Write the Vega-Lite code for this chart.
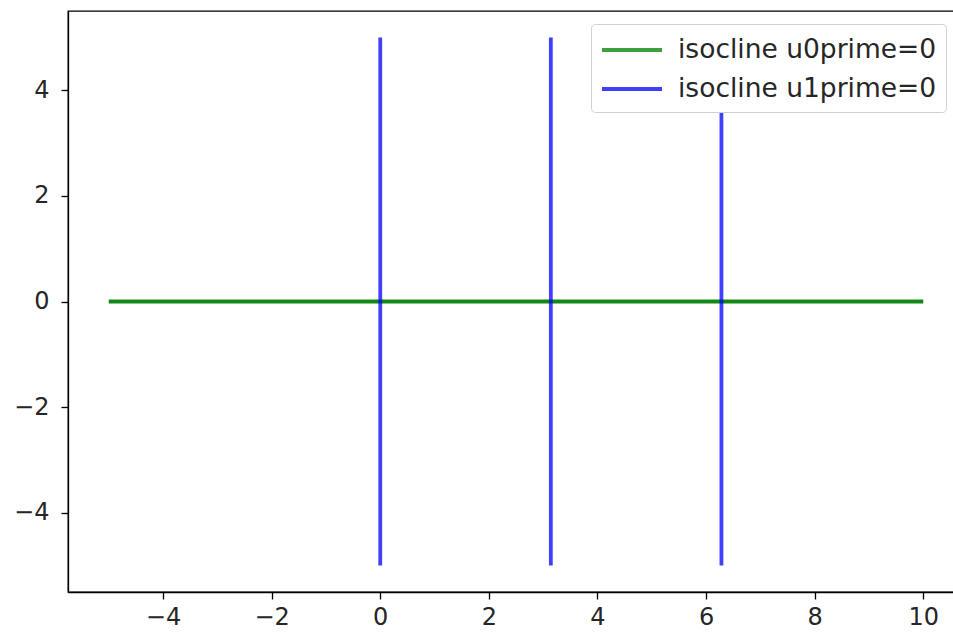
{
  "$schema": "https://vega.github.io/schema/vega-lite/v6.json",
  "width": 896,
  "height": 581,
  "autosize": {"type": "none"},
  "padding": {"left": 68, "top": 11, "right": 0, "bottom": 45},
  "background": "white",
  "config": {
    "font": "DejaVu Sans",
    "view": {"stroke": "black", "strokeWidth": 1.3},
    "axis": {
      "grid": false,
      "domainColor": "black",
      "domainWidth": 1.3,
      "tickColor": "black",
      "tickWidth": 1.3,
      "tickSize": 7,
      "labelFont": "DejaVu Sans",
      "labelFontSize": 24,
      "labelColor": "#262626",
      "title": null
    }
  },
  "datasets": {
    "green": [
      {"x": -5, "y": 0, "id": "g", "series": "isocline u0prime=0"},
      {"x": 10, "y": 0, "id": "g", "series": "isocline u0prime=0"}
    ],
    "blue": [
      {"x": 0, "y": -5, "id": "b0", "series": "isocline u1prime=0"},
      {"x": 0, "y": 5, "id": "b0", "series": "isocline u1prime=0"},
      {"x": 3.1416, "y": -5, "id": "b1", "series": "isocline u1prime=0"},
      {"x": 3.1416, "y": 5, "id": "b1", "series": "isocline u1prime=0"},
      {"x": 6.2832, "y": -5, "id": "b2", "series": "isocline u1prime=0"},
      {"x": 6.2832, "y": 5, "id": "b2", "series": "isocline u1prime=0"}
    ]
  },
  "layer": [
    {
      "data": {"name": "green"},
      "mark": {"type": "line", "strokeWidth": 3.8, "opacity": 0.93, "clip": true},
      "encoding": {
        "x": {"field": "x", "type": "quantitative", "scale": {"domain": [-5.75, 10.75], "nice": false, "zero": false}, "axis": {"values": [-4, -2, 0, 2, 4, 6, 8, 10], "labelPadding": 6}},
        "y": {"field": "y", "type": "quantitative", "scale": {"domain": [-5.5, 5.5], "nice": false, "zero": false}, "axis": {"values": [-4, -2, 0, 2, 4], "labelPadding": 12}},
        "detail": {"field": "id"},
        "color": {
          "field": "series", "type": "nominal",
          "scale": {"domain": ["isocline u0prime=0", "isocline u1prime=0"], "range": ["#008000", "#0000ff"]},
          "legend": {
            "title": null,
            "orient": "none",
            "legendX": 523,
            "legendY": 13,
            "symbolType": "M-1,0L3,0",
            "symbolSize": 900,
            "symbolStrokeWidth": 3.8,
            "symbolOpacity": 0.75,
            "labelFont": "DejaVu Sans",
            "labelFontSize": 26.5,
            "labelColor": "#262626",
            "labelOffset": 44,
            "labelLimit": 400,
            "rowPadding": 8,
            "padding": 9,
            "fillColor": "white",
            "strokeColor": "#d0d0d0",
            "cornerRadius": 4
          }
        }
      }
    },
    {
      "data": {"name": "blue"},
      "mark": {"type": "line", "strokeWidth": 3.8, "opacity": 0.75, "clip": true},
      "encoding": {
        "x": {"field": "x", "type": "quantitative"},
        "y": {"field": "y", "type": "quantitative"},
        "detail": {"field": "id"},
        "color": {"field": "series", "type": "nominal"}
      }
    }
  ]
}
